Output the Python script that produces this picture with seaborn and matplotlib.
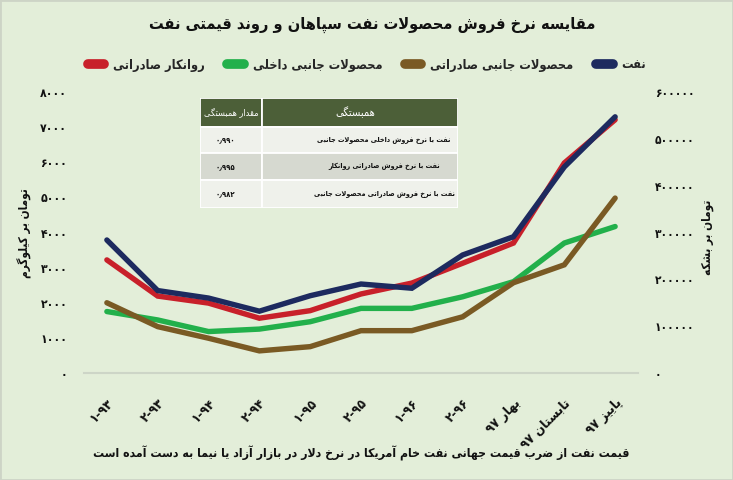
import re
import numpy as np
import pandas as pd
import matplotlib
matplotlib.use("Agg")
import matplotlib.pyplot as plt
import seaborn as sns
from matplotlib.lines import Line2D
from matplotlib.patches import Rectangle
from matplotlib.ticker import FixedLocator, FuncFormatter

# ---------------- data ----------------
periods = ["۱-۹۳", "۲-۹۳", "۱-۹۴", "۲-۹۴", "۱-۹۵", "۲-۹۵", "۱-۹۶", "۲-۹۶",
           "بهار ۹۷", "تابستان ۹۷", "پاییز ۹۷"]
oil = [284000, 176000, 160000, 132000, 165000, 190000, 181000, 252000, 291000, 440000, 547000]
lube_export = [3220, 2190, 1990, 1560, 1775, 2250, 2560, 3125, 3700, 5980, 7210]
byprod_domestic = [1750, 1510, 1180, 1250, 1460, 1840, 1840, 2170, 2600, 3700, 4170]
byprod_export = [2000, 1320, 990, 630, 750, 1205, 1205, 1600, 2570, 3080, 4980]

series_names = ["روانکار صادراتی", "محصولات جانبی داخلی", "محصولات جانبی صادراتی", "نفت"]
series_colors = ["#c8202a", "#22b04b", "#7a5a24", "#1d2a5f"]

title_text = "مقایسه نرخ فروش محصولات نفت سپاهان و روند قیمتی نفت"
left_label = "تومان بر کیلوگرم"
right_label = "تومان بر بشکه"
note_text = "قیمت نفت از ضرب قیمت جهانی نفت خام آمریکا در نرخ دلار در بازار آزاد یا نیما به دست آمده است"

table_header = ["مقدار همبستگی", "همبستگی"]
table_rows = ["نفت با نرخ فروش داخلی محصولات جانبی",
              "نفت با نرخ فروش صادراتی روانکار",
              "نفت با نرخ فروش صادراتی محصولات جانبی"]
table_values = ["۰٫۹۹۰", "۰٫۹۹۵", "۰٫۹۸۲"]

left_ticks = [0, 1000, 2000, 3000, 4000, 5000, 6000, 7000, 8000]
right_ticks = [0, 100000, 200000, 300000, 400000, 500000, 600000]

# ---------------- Persian shaping helper ----------------
D_FORMS = {
    'ب': 0xFE8F, 'ت': 0xFE95, 'ث': 0xFE99, 'ج': 0xFE9D, 'ح': 0xFEA1, 'خ': 0xFEA5,
    'س': 0xFEB1, 'ش': 0xFEB5, 'ص': 0xFEB9, 'ض': 0xFEBD, 'ط': 0xFEC1, 'ظ': 0xFEC5,
    'ع': 0xFEC9, 'غ': 0xFECD, 'ف': 0xFED1, 'ق': 0xFED5, 'ل': 0xFEDD, 'م': 0xFEE1,
    'ن': 0xFEE5, 'ه': 0xFEE9, 'ئ': 0xFE89,
    'پ': 0xFB56, 'چ': 0xFB7A, 'ک': 0xFB8E, 'گ': 0xFB92, 'ی': 0xFBFC,
}
R_FORMS = {'ا': 0xFE8D, 'آ': 0xFE81, 'د': 0xFEA9, 'ذ': 0xFEAB, 'ر': 0xFEAD,
           'ز': 0xFEAF, 'ژ': 0xFB8A, 'و': 0xFEED}


def fa(s):
    out = []
    n = len(s)
    i = 0
    while i < n:
        c = s[i]
        prev = i > 0 and s[i - 1] in D_FORMS
        if c == 'ل' and i + 1 < n and s[i + 1] in 'اآ':
            lig = {'ا': ('\uFEFB', '\uFEFC'), 'آ': ('\uFEF5', '\uFEF6')}[s[i + 1]]
            out.append(lig[1] if prev else lig[0])
            i += 2
            continue
        nxt = i + 1 < n and (s[i + 1] in D_FORMS or s[i + 1] in R_FORMS)
        if c in D_FORMS:
            b = D_FORMS[c]
            if prev and nxt:
                out.append(chr(b + 3))
            elif prev:
                out.append(chr(b + 1))
            elif nxt:
                out.append(chr(b + 2))
            else:
                out.append(chr(b))
        elif c in R_FORMS:
            b = R_FORMS[c]
            out.append(chr(b + 1) if prev else chr(b))
        else:
            out.append(c)
        i += 1
    vis = ''.join(out)[::-1]
    vis = re.sub(r'[0-9۰-۹٫٬]+', lambda m: m.group(0)[::-1], vis)
    return vis


def fa_digits(v):
    return str(int(v)).translate(str.maketrans("0123456789", "۰۱۲۳۴۵۶۷۸۹"))


def label(s):
    return s if not any(ch in D_FORMS or ch in R_FORMS for ch in s) else fa(s)


# ---------------- styling ----------------
sns.set_theme(style="white")
plt.rcParams["font.family"] = ["DejaVu Sans"]
plt.rcParams["font.stretch"] = "condensed"
BG = "#e3eed9"
INK = "#111111"

fig = plt.figure(figsize=(7.33, 4.8), dpi=100, facecolor=BG)
fig.patches.append(Rectangle((0, 0), 1, 1, transform=fig.transFigure, fill=False,
                             edgecolor="#cdd4c6", linewidth=2, zorder=0))
ax = fig.add_axes([84 / 733, 1 - 373 / 480, (638 - 84) / 733, (373 - 92) / 480])
ax.set_facecolor(BG)
ax.patch.set_alpha(0)
ax2 = ax.twinx()

df = pd.DataFrame({
    "x": np.arange(len(periods)),
    "lube": lube_export,
    "dom": byprod_domestic,
    "exp": byprod_export,
    "oil": oil,
})

kw = dict(linewidth=3.9, solid_capstyle="round", solid_joinstyle="miter")
sns.lineplot(data=df, x="x", y="dom", ax=ax, color=series_colors[1], **kw)
sns.lineplot(data=df, x="x", y="exp", ax=ax, color=series_colors[2], **kw)
sns.lineplot(data=df, x="x", y="lube", ax=ax, color=series_colors[0], **kw)
sns.lineplot(data=df, x="x", y="oil", ax=ax2, color=series_colors[3], **kw)

ax.set_xlim(-0.45, 10.45)
ax.set_ylim(0, 8000)
ax2.set_ylim(0, 600000)

for a in (ax, ax2):
    for sp in a.spines.values():
        sp.set_visible(False)
    a.set_xlabel("")
    a.set_ylabel("")
    a.grid(False)
ax.spines["bottom"].set_visible(True)
ax.spines["bottom"].set_color("#cdd5c7")
ax.spines["bottom"].set_linewidth(1.5)

ax.yaxis.set_major_locator(FixedLocator(left_ticks))
ax.yaxis.set_major_formatter(FuncFormatter(lambda v, p: fa_digits(v)))
ax2.yaxis.set_major_locator(FixedLocator(right_ticks))
ax2.yaxis.set_major_formatter(FuncFormatter(lambda v, p: fa_digits(v)))
ax.tick_params(axis="y", length=0, pad=12, labelsize=8.8)
ax2.tick_params(axis="y", length=0, pad=12, labelsize=8.6)
for t in ax.get_yticklabels() + ax2.get_yticklabels():
    t.set_fontweight("bold")
    t.set_color(INK)

ax.set_xticks(np.arange(len(periods)))
ax.set_xticklabels([label(p) for p in periods], rotation=45, ha="right",
                   rotation_mode="anchor", fontsize=9.6, fontweight="bold", color=INK)
ax.tick_params(axis="x", length=0, pad=17)

# axis titles
fig.text(25 / 733, 1 - 233 / 480, fa(left_label), rotation=90, ha="center", va="center",
         fontsize=8.5, fontweight="bold", color=INK)
fig.text(707 / 733, 1 - 237 / 480, fa(right_label), rotation=90, ha="center", va="center",
         fontsize=8.5, fontweight="bold", color=INK)

# title
fig.text(372 / 733, 1 - 25 / 480, fa(title_text), ha="center", va="center",
         fontsize=11.7, fontweight="bold", color=INK)

# legend
handles = [Line2D([0], [0], color=c, lw=7, solid_capstyle="round") for c in series_colors]
leg = fig.legend(handles, [fa(s) for s in series_names], loc="center",
                 bbox_to_anchor=(367 / 733, 1 - 65 / 480), ncol=4, frameon=False,
                 handlelength=1.3, handletextpad=0.7, columnspacing=1.75,
                 prop={"weight": "bold", "size": 9.2, "stretch": "condensed"})

# bottom note
fig.text(361 / 733, 1 - 453 / 480, fa(note_text), ha="center", va="center",
         fontsize=8.8, fontweight="bold", color=INK)

# correlation table (drawn cell by cell, local pixel units)
tax = fig.add_axes([200 / 733, 1 - 208 / 480, 258 / 733, 110 / 480])
tax.set_xlim(0, 258)
tax.set_ylim(110, 0)
tax.axis("off")
row_edges = [0, 29, 55, 82, 110]
col_edges = [0, 62, 258]
row_colors = ["#4c5f38", "#eff1eb", "#d6d9d0", "#eff1eb"]
for r in range(4):
    for c in range(2):
        tax.add_patch(Rectangle((col_edges[c], row_edges[r]), col_edges[c + 1] - col_edges[c],
                                row_edges[r + 1] - row_edges[r], facecolor=row_colors[r],
                                edgecolor="white", linewidth=1.3))
hy = (row_edges[0] + row_edges[1]) / 2
tax.text(31, hy, fa(table_header[0]), ha="center", va="center", fontsize=6.6,
         color="white")
tax.text(155, hy, fa(table_header[1]), ha="center", va="center", fontsize=8,
         color="white")
for r in range(3):
    cy = (row_edges[r + 1] + row_edges[r + 2]) / 2
    tax.text(25, cy, table_values[r], ha="center", va="center", fontsize=5.6,
             fontweight="bold", color=INK)
    tax.text(184, cy, fa(table_rows[r]), ha="center", va="center", fontsize=5.2,
             fontweight="bold", color=INK)

fig.savefig("out.png", dpi=100, facecolor=BG)
